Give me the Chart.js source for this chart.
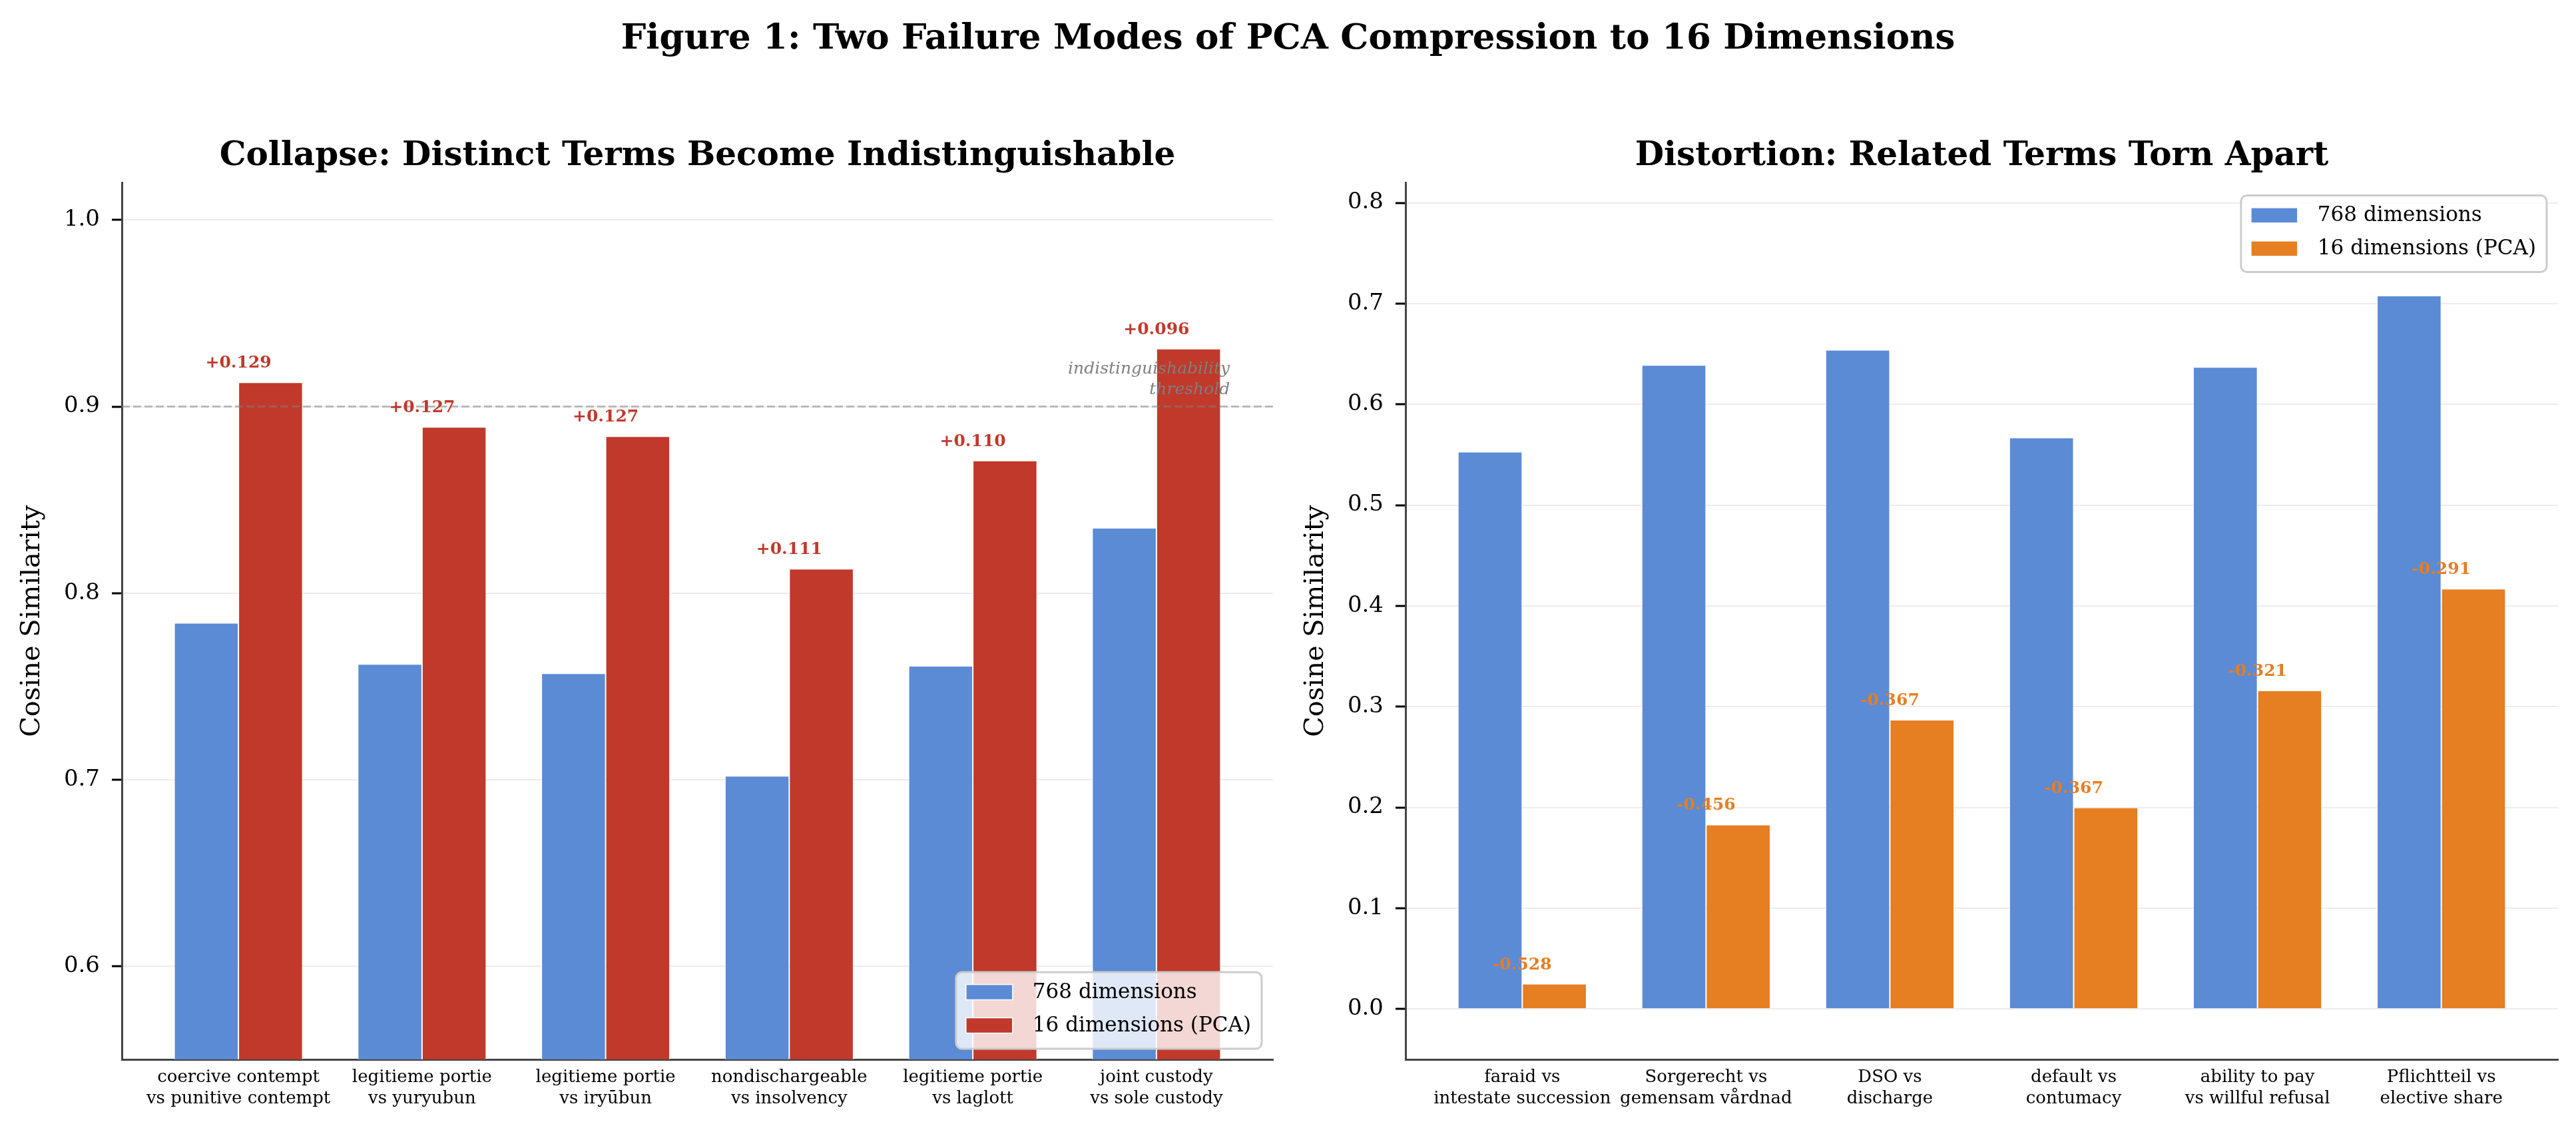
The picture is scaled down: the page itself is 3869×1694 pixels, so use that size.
<!DOCTYPE html>
<html><head><meta charset="utf-8">
<script src="https://cdn.jsdelivr.net/npm/chart.js@4.4.0/dist/chart.umd.min.js"></script>
<style>
html,body{margin:0;padding:0;background:#fff;width:3869px;height:1694px;overflow:hidden;}
#figtitle{position:absolute;left:0;top:0;width:3869px;text-align:center;font-family:'DejaVu Serif',serif;font-weight:bold;font-size:53px;line-height:108px;color:#000;z-index:2;}
canvas{position:absolute;top:0;}
#c1{left:0px;}
#c2{left:1928px;}
</style></head><body>
<div id="figtitle">Figure 1: Two Failure Modes of PCA Compression to 16 Dimensions</div>
<canvas id="c1" width="1928" height="1694"></canvas>
<canvas id="c2" width="1941" height="1694"></canvas>
<script>
// ---------- data ----------
const collapseCategories = [
  ['coercive contempt', 'vs punitive contempt'],
  ['legitieme portie', 'vs yuryubun'],
  ['legitieme portie', 'vs iryūbun'],
  ['nondischargeable', 'vs insolvency'],
  ['legitieme portie', 'vs laglott'],
  ['joint custody', 'vs sole custody']
];
const collapse768 = [0.784, 0.762, 0.757, 0.702, 0.761, 0.835];
const collapse16 = [0.913, 0.889, 0.884, 0.813, 0.871, 0.931];
const collapseDeltaLabels = ['+0.129', '+0.127', '+0.127', '+0.111', '+0.110', '+0.096'];
const collapseYTicks = [0.6, 0.7, 0.8, 0.9, 1.0];
const collapseThreshold = 0.9;

const distortionCategories = [
  ['faraid vs', 'intestate succession'],
  ['Sorgerecht vs', 'gemensam vårdnad'],
  ['DSO vs', 'discharge'],
  ['default vs', 'contumacy'],
  ['ability to pay', 'vs willful refusal'],
  ['Pflichtteil vs', 'elective share']
];
const distortion768 = [0.553, 0.639, 0.654, 0.567, 0.637, 0.708];
const distortion16 = [0.025, 0.183, 0.287, 0.200, 0.316, 0.417];
const distortionDeltaLabels = ['-0.528', '-0.456', '-0.367', '-0.367', '-0.321', '-0.291'];
const distortionYTicks = [0.0, 0.1, 0.2, 0.3, 0.4, 0.5, 0.6, 0.7, 0.8];

const seriesNames = ['768 dimensions', '16 dimensions (PCA)'];

// ---------- style ----------
const FONT = "'DejaVu Serif', serif";
const BLUE = '#5b8bd5', RED = '#c0392b', ORANGE = '#e67e22';

function toPoints(vals) { return vals.map((v, i) => ({ x: i, y: v })); }

function overlayPlugin(cfg) {
  return {
    id: 'overlay',
    afterDatasetsDraw(chart) {
      const ctx = chart.ctx, ca = chart.chartArea;
      const xs = chart.scales.x, ys = chart.scales.y;
      ctx.save();
      // threshold line + text
      if (cfg.threshold != null) {
        const py = ys.getPixelForValue(cfg.threshold);
        ctx.strokeStyle = 'rgba(128,128,128,0.5)';
        ctx.lineWidth = 3;
        ctx.setLineDash([12, 5]);
        ctx.beginPath(); ctx.moveTo(ca.left, py); ctx.lineTo(ca.right, py); ctx.stroke();
        ctx.setLineDash([]);
        ctx.font = 'italic 25px ' + FONT;
        ctx.fillStyle = '#7f7f7f';
        ctx.textAlign = 'right';
        ctx.textBaseline = 'alphabetic';
        const tx = xs.getPixelForValue(5.4);
        ctx.fillText('indistinguishability', tx, py - 50);
        ctx.fillText('threshold', tx, py - 19);
      }
      // value labels
      ctx.font = 'bold 25px ' + FONT;
      ctx.fillStyle = cfg.labelColor;
      ctx.textAlign = 'center';
      ctx.textBaseline = 'alphabetic';
      cfg.labels.forEach((t, i) => {
        ctx.fillText(t, xs.getPixelForValue(i), ys.getPixelForValue(cfg.labelValues[i]) - 22);
      });
      // legend
      ctx.font = '31px ' + FONT;
      const items = chart.data.datasets.map(d => ({ text: d.label, color: d.backgroundColor }));
      const tw = Math.max(...items.map(it => ctx.measureText(it.text).width));
      const w = 115 + tw + 16, h = 115;
      const right = ca.right - 17, left = right - w;
      const top = cfg.legendPos === 'bottom' ? ca.bottom - 16 - h : ca.top + 19;
      const r = 9;
      ctx.beginPath();
      ctx.moveTo(left + r, top); ctx.lineTo(left + w - r, top);
      ctx.arcTo(left + w, top, left + w, top + r, r); ctx.lineTo(left + w, top + h - r);
      ctx.arcTo(left + w, top + h, left + w - r, top + h, r); ctx.lineTo(left + r, top + h);
      ctx.arcTo(left, top + h, left, top + h - r, r); ctx.lineTo(left, top + r);
      ctx.arcTo(left, top, left + r, top, r); ctx.closePath();
      ctx.fillStyle = 'rgba(255,255,255,0.8)';
      ctx.fill();
      ctx.strokeStyle = '#cccccc'; ctx.lineWidth = 3; ctx.stroke();
      items.forEach((it, k) => {
        const cy = top + 30 + k * 50;
        ctx.fillStyle = it.color;
        ctx.fillRect(left + 15, cy - 11.5, 70, 23);
        ctx.strokeStyle = '#fff'; ctx.lineWidth = 1.5;
        ctx.strokeRect(left + 15, cy - 11.5, 70, 23);
        ctx.fillStyle = '#000';
        ctx.textAlign = 'left'; ctx.textBaseline = 'middle';
        ctx.fillText(it.text, left + 115, cy + 1);
      });
      ctx.restore();
    }
  };
}

function makeChart(id, cfg) {
  return new Chart(document.getElementById(id), {
    type: 'bar',
    data: {
      datasets: [
        { label: seriesNames[0], data: toPoints(cfg.v768), backgroundColor: BLUE },
        { label: seriesNames[1], data: toPoints(cfg.v16), backgroundColor: cfg.color2 }
      ]
    },
    options: {
      responsive: false, animation: false, devicePixelRatio: 1,
      datasets: { bar: { categoryPercentage: 0.7, barPercentage: 1.0, borderColor: '#ffffff', borderWidth: 1, borderSkipped: 'start' } },
      layout: { padding: { left: 0, right: cfg.padRight, top: 0, bottom: 0 } },
      plugins: {
        legend: { display: false },
        tooltip: { enabled: false },
        title: {
          display: true, text: cfg.title, fullSize: false, color: '#000',
          font: { family: FONT, size: 50, weight: 'bold', lineHeight: 1.2 },
          padding: { top: 205, bottom: 9.4 }
        }
      },
      scales: {
        x: {
          type: 'linear', min: -0.635, max: 5.635, offset: false,
          afterBuildTicks: s => { s.ticks = cfg.categories.map((_, i) => ({ value: i })); },
          ticks: {
            autoSkip: false, maxRotation: 0, minRotation: 0,
            callback: v => cfg.categories[v],
            font: { family: FONT, size: 26, lineHeight: 1.23 }, color: '#000', padding: 11
          },
          grid: { display: false, drawTicks: false, offset: false },
          border: { display: true, color: '#444444', width: 3 },
          afterFit: s => { s.height = 103; }
        },
        y: {
          min: cfg.yMin, max: cfg.yMax,
          afterBuildTicks: s => { s.ticks = cfg.yTicks.map(v => ({ value: v })); },
          ticks: {
            callback: v => Number(v).toFixed(1),
            font: { family: FONT, size: 34 }, color: '#000', padding: 18
          },
          grid: { color: '#ececec', lineWidth: 2, tickColor: '#000', tickLength: 15, tickWidth: 3 },
          border: { display: true, color: '#444444', width: 3 },
          title: {
            display: true, text: 'Cosine Similarity', color: '#000',
            font: { family: FONT, size: 40, lineHeight: 1.2 }, padding: { top: 25, bottom: 0 }
          },
          afterFit: s => { s.width = 183; }
        }
      }
    },
    plugins: [overlayPlugin({
      threshold: cfg.threshold, labels: cfg.deltaLabels, labelValues: cfg.v16,
      labelColor: cfg.color2, legendPos: cfg.legendPos
    })]
  });
}

makeChart('c1', {
  title: 'Collapse: Distinct Terms Become Indistinguishable',
  categories: collapseCategories, v768: collapse768, v16: collapse16,
  deltaLabels: collapseDeltaLabels, yTicks: collapseYTicks, yMin: 0.55, yMax: 1.02,
  threshold: collapseThreshold, color2: RED, legendPos: 'bottom', padRight: 16
});
makeChart('c2', {
  title: 'Distortion: Related Terms Torn Apart',
  categories: distortionCategories, v768: distortion768, v16: distortion16,
  deltaLabels: distortionDeltaLabels, yTicks: distortionYTicks, yMin: -0.05, yMax: 0.82,
  threshold: null, color2: ORANGE, legendPos: 'top', padRight: 27
});
</script>
</body></html>
